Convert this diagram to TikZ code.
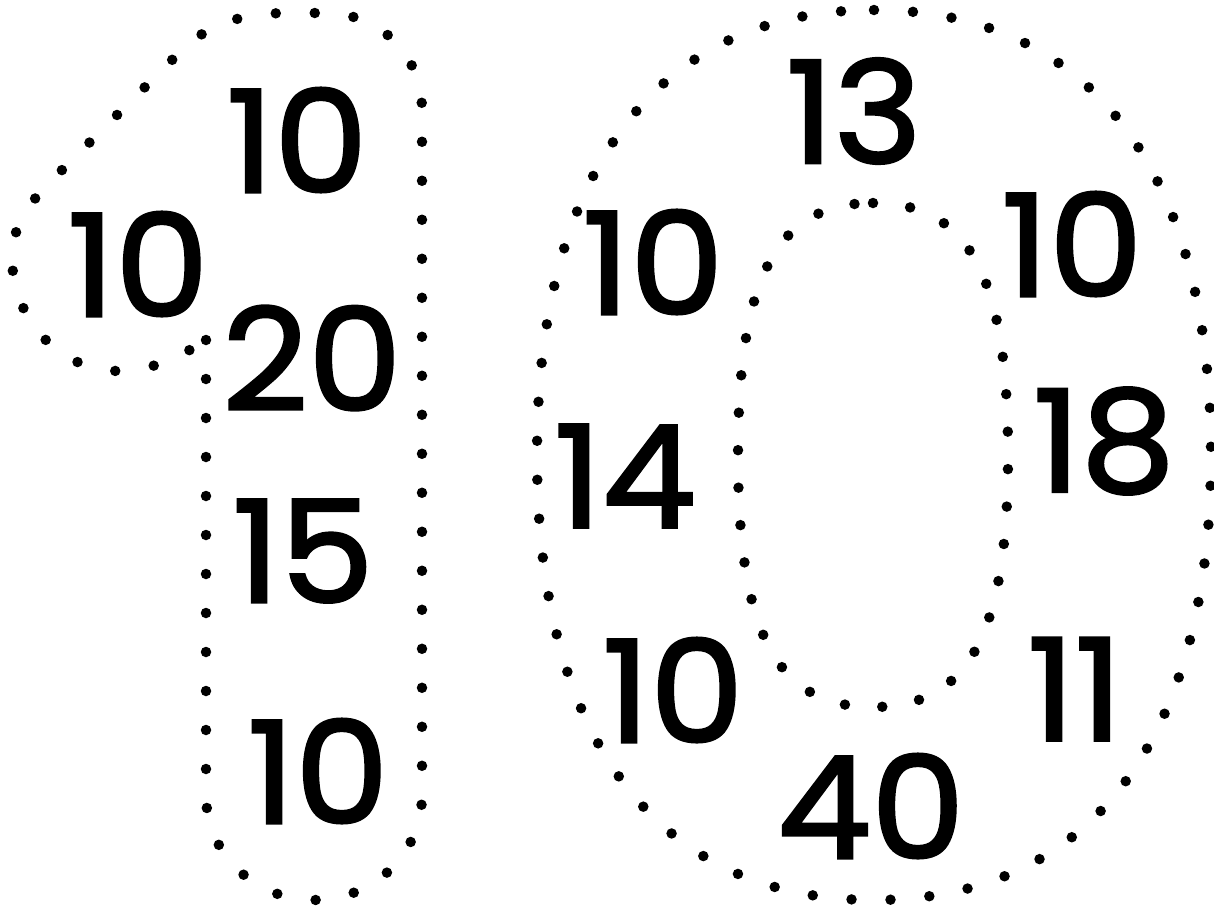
\documentclass[tikz,border=0pt]{standalone}
\usepackage{fontspec}
\setmainfont{Poppins}[FakeBold=2,FakeStretch=1.05]
\begin{document}
\begin{tikzpicture}[x=1pt,y=-1pt,
  dotline/.style={line width=10.5pt,line cap=round,dash pattern=on 0pt off 39pt},
  num/.style={inner sep=0pt,font=\fontsize{142}{150}\selectfont}]
\useasboundingbox (0,0) rectangle (1214,911);
% left P-shaped outline
\draw[dotline] (206,340) -- (206,795)
  .. controls (206,853) and (254,900) .. (314,900)
  .. controls (374,900) and (422,853) .. (422,795)
  -- (422,110)
  .. controls (422,55) and (380,13) .. (325,13)
  -- (290,13)
  .. controls (250,13) and (215,20) .. (185,47)
  -- (50,182)
  .. controls (28,204) and (12,228) .. (12,257)
  .. controls (12,320) and (60,370) .. (117,371)
  .. controls (150,371) and (180,358) .. (205,340) -- cycle;
% outer rounded shape (right)
\draw[dotline] (874,10)
  .. controls ({874+337*0.64},10) and (1211,{455-445*0.64}) .. (1211,455)
  .. controls (1211,{455+445*0.64}) and ({874+337*0.64},900) .. (874,900)
  .. controls ({874-337*0.64},900) and (537,{455+445*0.64}) .. (537,455)
  .. controls (537,{455-445*0.64}) and ({874-337*0.64},10) .. (874,10) -- cycle;
% inner rounded shape (right)
\draw[dotline,dash pattern=on 0pt off 37.5pt] (873,203)
  .. controls ({873+135*0.71},203) and (1008,{455-252*0.71}) .. (1008,455)
  .. controls (1008,{455+252*0.71}) and ({873+135*0.71},707) .. (873,707)
  .. controls ({873-135*0.71},707) and (738,{455+252*0.71}) .. (738,455)
  .. controls (738,{455-252*0.71}) and ({873-135*0.71},203) .. (873,203) -- cycle;
% numbers
\node[num] (a1) at (138,264) {10};
\node[num] (a2) at (297,140) {10};
\node[num] (a3) at (312,358) {20};
\node[num] (a4) at (303,551) {15};
\node[num] (a5) at (318,771) {10};
\node[num] (b1) at (854,111) {13};
\node[num] (b2) at (1072,244) {10};
\node[num] (b3) at (653,262) {10};
\node[num] (b4) at (625,476) {14};
\node[num] (b5) at (1104,441) {18};
\node[num] (b6) at (673,690) {10};
\node[num] (b7) at (1075,689) {11};
\node[num] (b8) at (871,806) {40};
\end{tikzpicture}
\end{document}
